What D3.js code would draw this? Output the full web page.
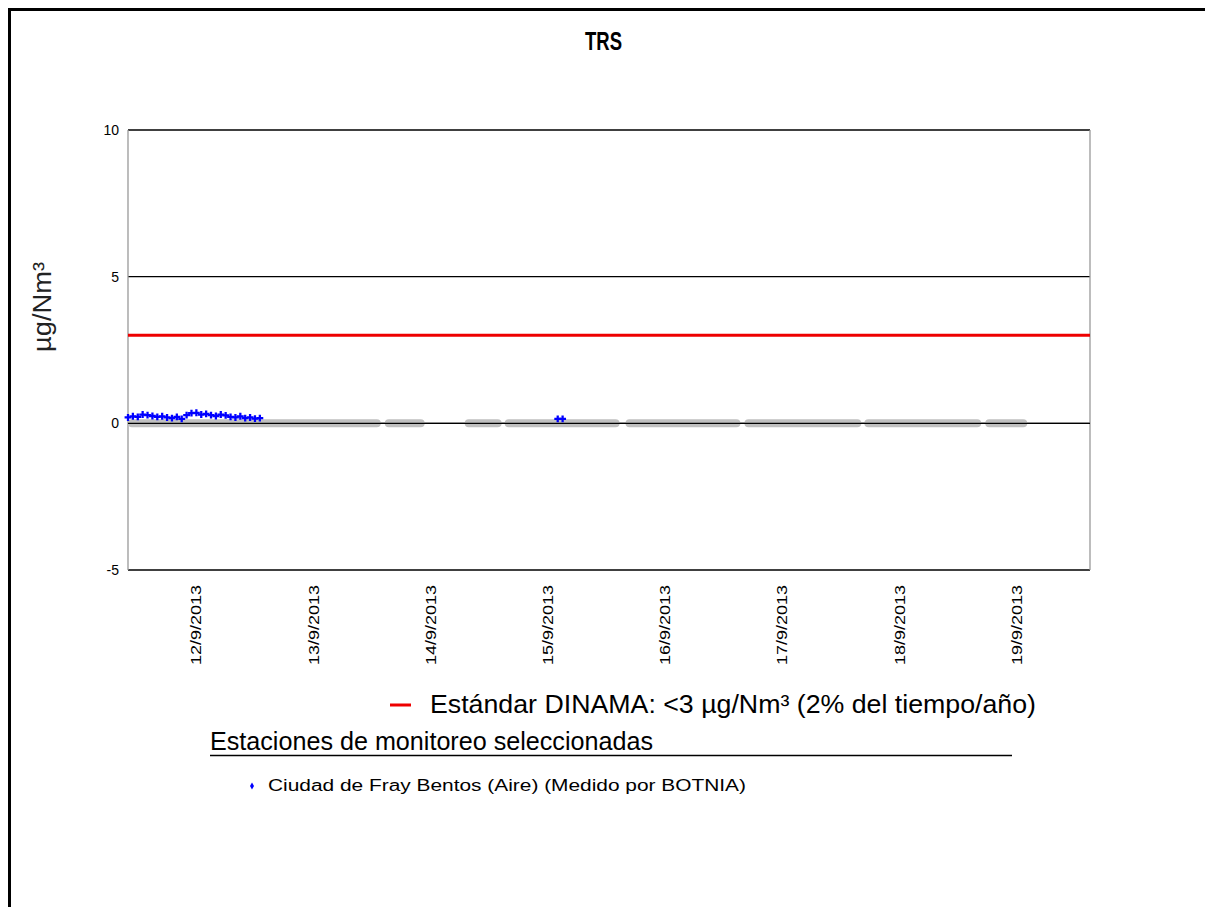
<!DOCTYPE html>
<html>
<head>
<meta charset="utf-8">
<script src="https://cdn.jsdelivr.net/npm/d3@7"></script>
<style>
  body { margin: 0; background: #fff; }
  svg { font-family: "Liberation Sans", Arial, sans-serif; }
</style>
</head>
<body>
<div id="chart"></div>
<script>
// hourly TRS values, Ciudad de Fray Bentos, starting 11/9/2013 10:00
const seriesStart = "2013-09-11T10:00:00";
const trsValues = [0.20, 0.24, 0.22, 0.30, 0.28, 0.25, 0.22, 0.24, 0.20, 0.18, 0.22, 0.15, 0.28, 0.35,
                   0.36, 0.30, 0.32, 0.28, 0.25, 0.30, 0.27, 0.22, 0.20, 0.24, 0.18, 0.20, 0.16, 0.18];
// a few isolated readings on 15/9
const extraTimes = ["2013-09-15T02:00:00", "2013-09-15T03:00:00"];
const extraValues = [0.15, 0.15];
// grey bands at zero (periods without valid data)
const greyStart = ["2013-09-11T10:00", "2013-09-13T14:35", "2013-09-14T06:57", "2013-09-14T15:08",
                   "2013-09-15T15:53", "2013-09-16T16:14", "2013-09-17T16:47", "2013-09-18T17:33"];
const greyEnd   = ["2013-09-13T13:46", "2013-09-13T22:45", "2013-09-14T14:31", "2013-09-15T14:40",
                   "2013-09-16T15:25", "2013-09-17T16:10", "2013-09-18T16:43", "2013-09-19T02:09"];
const dayTicks = ["2013-09-12", "2013-09-13", "2013-09-14", "2013-09-15", "2013-09-16", "2013-09-17", "2013-09-18", "2013-09-19"];
const yTicks = [-5, 0, 5, 10];
const standardValue = 3;

const width = 1205, height = 907;
const margin = { left: 128, right: 1090, top: 130, bottom: 570 };

const svg = d3.select('#chart').append('svg')
    .attr('width', width)
    .attr('height', height);

// outer frame
svg.append('path')
    .attr('d', 'M 9.5 907 L 9.5 9.5 L 1205 9.5')
    .attr('fill', 'none')
    .attr('stroke', '#000')
    .attr('stroke-width', 3);

const x = d3.scaleTime()
    .domain([new Date("2013-09-11T10:00:00"), new Date("2013-09-19T15:00:00")])
    .range([margin.left, margin.right]);
const y = d3.scaleLinear()
    .domain([-5, 10])
    .range([margin.bottom, margin.top]);

// title
svg.append('text')
    .attr('x', 585).attr('y', 50)
    .attr('textLength', 37)
    .attr('lengthAdjust', 'spacingAndGlyphs')
    .style('font-size', '25px')
    .style('font-weight', 'bold')
    .text('TRS');

// gridlines
svg.append('g').selectAll('line')
    .data(yTicks)
    .enter().append('line')
    .attr('x1', margin.left).attr('x2', margin.right)
    .attr('y1', d => y(d)).attr('y2', d => y(d))
    .attr('stroke', '#000')
    .attr('stroke-width', 1.3);

// plot side borders
svg.append('g').selectAll('line')
    .data([margin.left, margin.right])
    .enter().append('line')
    .attr('x1', d => d).attr('x2', d => d)
    .attr('y1', margin.top).attr('y2', margin.bottom)
    .attr('stroke', '#999')
    .attr('stroke-width', 1.3);

// y tick labels
svg.append('g').selectAll('text')
    .data(yTicks)
    .enter().append('text')
    .attr('x', 119)
    .attr('y', d => y(d) + 5)
    .attr('text-anchor', 'end')
    .style('font-size', '14px')
    .text(d => d);

// y axis title
svg.append('text')
    .attr('transform', 'translate(51,307) rotate(-90)')
    .attr('text-anchor', 'middle')
    .attr('textLength', 90)
    .attr('lengthAdjust', 'spacingAndGlyphs')
    .style('font-size', '26px')
    .style('fill', '#222')
    .text('µg/Nm³');

// x tick labels
svg.append('g').selectAll('text')
    .data(dayTicks)
    .enter().append('text')
    .attr('transform', d => 'translate(' + (x(new Date(d + "T00:00:00")) + 5) + ',665) rotate(-90)')
    .attr('textLength', 80)
    .attr('lengthAdjust', 'spacingAndGlyphs')
    .style('font-size', '15px')
    .text(d => {
        const dt = new Date(d + "T00:00:00");
        return dt.getDate() + '/' + (dt.getMonth() + 1) + '/' + dt.getFullYear();
    });

// grey zero bands
svg.append('g').selectAll('line')
    .data(greyStart.map((s, i) => ({ s: new Date(s), e: new Date(greyEnd[i]) })))
    .enter().append('line')
    .attr('x1', d => x(d.s) + 4).attr('x2', d => x(d.e) - 4)
    .attr('y1', y(0)).attr('y2', y(0))
    .attr('stroke', '#c0c0c0')
    .attr('stroke-width', 8)
    .attr('stroke-linecap', 'round');

// redraw zero line on top of grey bands
svg.append('line')
    .attr('x1', margin.left).attr('x2', margin.right)
    .attr('y1', y(0)).attr('y2', y(0))
    .attr('stroke', '#000')
    .attr('stroke-width', 1.3);

// standard line
svg.append('line')
    .attr('x1', margin.left).attr('x2', margin.right)
    .attr('y1', y(standardValue)).attr('y2', y(standardValue))
    .attr('stroke', '#ee0000')
    .attr('stroke-width', 3);

// data points
const t0 = new Date(seriesStart).getTime();
const points = trsValues.map((v, i) => ({ t: new Date(t0 + i * 3600000), v: v }))
    .concat(extraTimes.map((t, i) => ({ t: new Date(t), v: extraValues[i] })));

const marker = d3.symbol().type(d3.symbolCross).size(26);
svg.append('g').selectAll('path')
    .data(points)
    .enter().append('path')
    .attr('d', marker)
    .attr('transform', d => 'translate(' + x(d.t) + ',' + y(d.v) + ')')
    .attr('fill', '#0000ff');

// legend
svg.append('line')
    .attr('x1', 390).attr('x2', 411)
    .attr('y1', 705).attr('y2', 705)
    .attr('stroke', '#ee0000')
    .attr('stroke-width', 3);
svg.append('text')
    .attr('x', 430).attr('y', 713)
    .attr('textLength', 606)
    .attr('lengthAdjust', 'spacingAndGlyphs')
    .style('font-size', '25px')
    .text('Estándar DINAMA: <3 µg/Nm³ (2% del tiempo/año)');

svg.append('text')
    .attr('x', 210).attr('y', 750)
    .attr('textLength', 443)
    .attr('lengthAdjust', 'spacingAndGlyphs')
    .style('font-size', '25px')
    .text('Estaciones de monitoreo seleccionadas');
svg.append('line')
    .attr('x1', 210).attr('x2', 1012)
    .attr('y1', 755.5).attr('y2', 755.5)
    .attr('stroke', '#000')
    .attr('stroke-width', 1.3);

svg.append('path')
    .attr('d', d3.symbol().type(d3.symbolDiamond).size(14))
    .attr('transform', 'translate(252,786)')
    .attr('fill', '#0000ff');
svg.append('text')
    .attr('x', 268).attr('y', 791)
    .attr('textLength', 478)
    .attr('lengthAdjust', 'spacingAndGlyphs')
    .style('font-size', '16px')
    .text('Ciudad de Fray Bentos (Aire)  (Medido por BOTNIA)');
</script>
</body>
</html>
